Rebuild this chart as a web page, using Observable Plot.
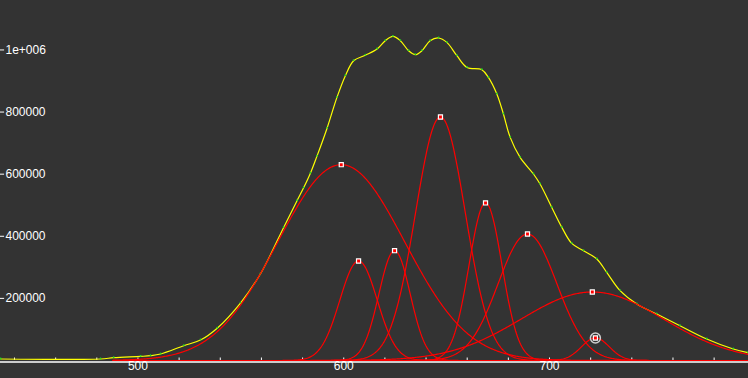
<!DOCTYPE html>
<html>
<head>
<meta charset="utf-8">
<script src="https://cdn.jsdelivr.net/npm/d3@7"></script>
<script src="https://cdn.jsdelivr.net/npm/@observablehq/plot@0.6"></script>
<style>
  html, body { margin: 0; padding: 0; background: #333333; }
  #chart svg { display: block; }
</style>
</head>
<body>
<div id="chart"></div>
<script>
const envX = [433.3, 481.8, 488.2, 501.3, 506.1, 511.0, 522.3, 530.4, 538.5, 549.8, 559.5, 570.8, 577.3, 580.5, 583.8, 587.0, 591.9, 596.7, 600.8, 604.8, 610.5, 616.2, 620.2, 623.9, 627.5, 631.5, 634.8, 638.0, 642.0, 646.1, 650.1, 655.0, 659.9, 667.1, 670.3, 674.4, 677.6, 680.9, 685.7, 692.2, 695.4, 701.1, 706.0, 710.8, 716.5, 723.0, 727.8, 734.3, 742.4, 752.1, 763.4, 776.4, 789.3, 796.4];
const envY = [4830, 4830, 9020, 13200, 15460, 20930, 47660, 66000, 104000, 185000, 278530, 428580, 514560, 556000, 603000, 658000, 748000, 847180, 917060, 965360, 983000, 1003030, 1029760, 1043600, 1029760, 997560, 984680, 997560, 1029760, 1038450, 1024280, 981460, 943780, 936380, 911580, 858130, 793730, 718380, 653980, 600530, 568330, 492980, 428580, 377000, 353560, 326830, 283680, 224760, 181930, 149730, 112060, 69230, 37030, 25440];

// Fitted Gaussian peaks (centre, height, sigma)
const peakCenter = [598.8, 607.2, 624.7, 647.0, 668.9, 689.3, 720.8, 722.3];
const peakHeight = [630500, 320400, 353600, 784100, 507200, 407300, 220600, 72450];
const peakSigma  = [30.8, 9.1, 7.6, 12.1, 8.0, 14.3, 34.5, 6.8];
const selectedPeak = 7;
const fitRange = [488, 797];

// Axes
const xDomain = [433.2, 796.7];
const yDomain = [0, 1159200];
const xTicks = d3.range(440, 800, 20);
const xLabelTicks = [500, 600, 700];
const yTicks = [200000, 400000, 600000, 800000, 1000000];
const yTickLabels = ["200000", "400000", "600000", "800000", "1e+006"];

const envelope = envX.map((x, i) => ({x, y: envY[i]}));
const peaks = peakCenter.map((c, i) => ({id: i, c, h: peakHeight[i], s: peakSigma[i]}));
const xs = d3.range(fitRange[0], fitRange[1] + 0.001, 0.5);
const curves = peaks.flatMap(p => xs.map(x => ({id: p.id, x, y: p.h * Math.exp(-((x - p.c) ** 2) / (2 * p.s * p.s))})));

const font = "Liberation Sans, Arial, sans-serif";

const chart = Plot.plot({
  width: 748,
  height: 378,
  marginTop: 0,
  marginRight: 0,
  marginBottom: 18,
  marginLeft: 0,
  x: {domain: xDomain, axis: null},
  y: {domain: yDomain, axis: null},
  style: {background: "#333333", color: "white", fontFamily: font},
  marks: [
    // x axis line and ticks
    Plot.ruleY([0], {stroke: "white", strokeWidth: 1.5, dy: 1.5}),
    Plot.ruleX(xTicks, {x: d => d, y1: 0, y2: 8000, stroke: "white", strokeWidth: 1}),
    Plot.text(xLabelTicks, {x: d => d, text: d => String(d), frameAnchor: "bottom", dy: 9, fill: "white", fontSize: 12, fontFamily: font}),
    // y ticks + labels
    Plot.ruleY(yTicks, {y: d => d, x1: xDomain[0], x2: xDomain[0] + 2, stroke: "white", strokeWidth: 1}),
    Plot.text(yTicks, {y: d => d, text: (d, i) => yTickLabels[i], frameAnchor: "left", dx: 5, textAnchor: "start", fill: "white", fontSize: 12, fontFamily: font}),
    // fitted envelope (yellow) and data points (green)
    Plot.line(envelope, {x: "x", y: "y", stroke: "#ffff00", strokeWidth: 1.2, curve: "catmull-rom"}),
    Plot.dot(envelope, {x: "x", y: "y", r: 0.9, fill: "#22dd22", stroke: "none", dy: -0.5}),
    // fitted peaks (red)
    Plot.line(curves, {x: "x", y: "y", z: "id", stroke: "#ff0000", strokeWidth: 1.2}),
    // peak markers
    Plot.dot(peaks, {x: "c", y: "h", symbol: "square", r: 2.3, fill: "#ff0000", stroke: "white", strokeWidth: 1.2}),
    Plot.dot([peaks[selectedPeak]], {x: "c", y: "h", r: 5, fill: "none", stroke: "#cfcfcf", strokeWidth: 1.5})
  ]
});

document.getElementById("chart").appendChild(chart);
</script>
</body>
</html>
